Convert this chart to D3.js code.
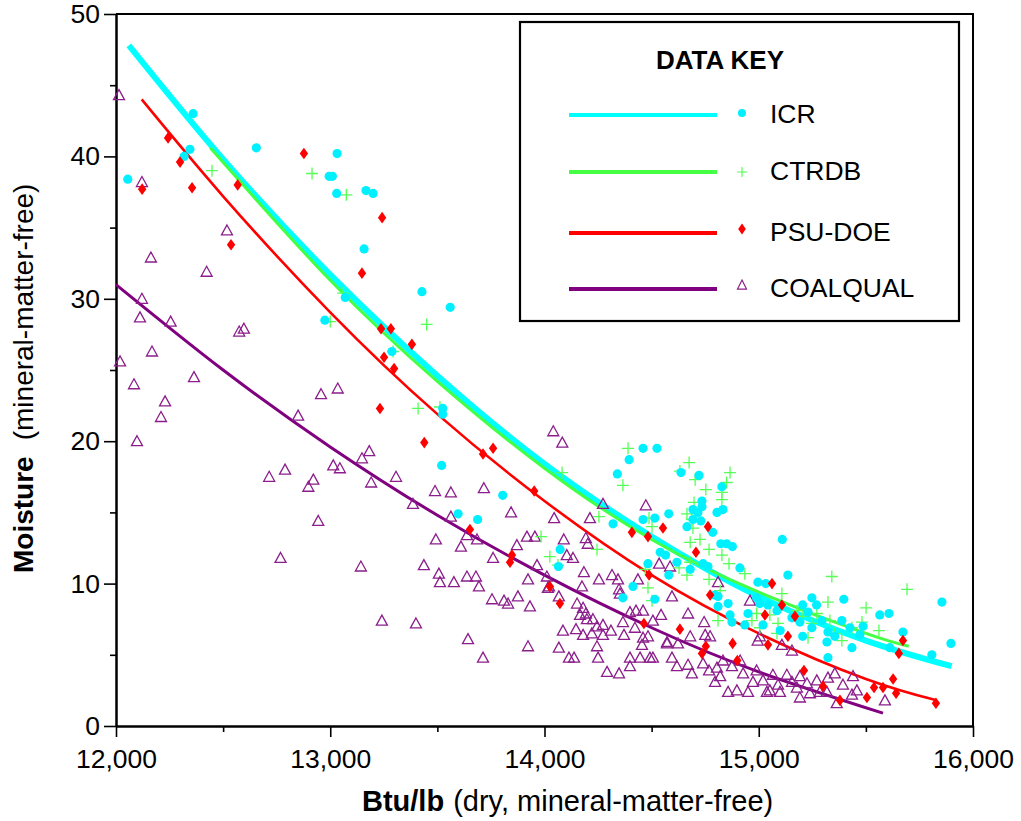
<!DOCTYPE html>
<html>
<head>
<meta charset="utf-8">
<script src="https://cdn.jsdelivr.net/npm/d3@7/dist/d3.min.js"></script>
<style>
  html, body { margin: 0; padding: 0; background: #fff; }
  svg { display: block; font-family: Arial, "Liberation Sans", Helvetica, sans-serif; }
</style>
</head>
<body>
<svg id="chart" width="1021" height="821"></svg>
<script>
// ---- data: [Btu/lb, moisture %] ----
const xTicks = [12000, 13000, 14000, 15000, 16000];
const xMinorTicks = [12500, 13500, 14500, 15500];
const yTicks = [0, 10, 20, 30, 40, 50];
const yMinorTicks = [5, 15, 25, 35, 45];

const seriesNames = ["ICR", "CTRDB", "PSU-DOE", "COALQUAL"];

const icrPoints = [
  [12055,38.4],[12360,43.0],[12345,40.5],[12318,40.0],[12655,40.6],[13032,40.2],[12995,38.6],[13010,38.6],
  [13030,37.4],[13167,37.6],[13200,37.4],[13158,33.5],[13428,30.5],[13070,30.1],[13560,29.4],[12975,28.5],
  [13288,26.3],[13525,22.3],[13525,21.9],[13520,18.3],[13805,16.2],[13597,14.9],[13688,14.5],[14460,19.5],
  [14525,19.5],[14395,18.7],[14340,17.7],[14320,14.2],[14460,14.5],[14515,14.6],[14580,14.9],[14073,12.4],
  [14065,11.2],[14540,12.2],[14565,12.0],[14483,11.4],[14413,9.8],[14366,9.0],[14515,8.9],[14580,10.6],
  [14637,17.8],[14721,17.6],[14828,16.8],[14735,15.8],[14735,15.4],[14693,15.2],[14716,15.0],[14805,15.0],
  [14833,15.2],[14730,14.4],[14665,14.0],[14693,14.5],[14785,13.6],[15110,13.1],[14823,12.8],[14850,12.8],
  [14877,12.6],[14618,11.5],[14680,11.0],[14740,11.4],[14763,11.2],[14912,11.1],[15136,10.6],[14996,10.1],
  [15033,10.0],[14795,9.2],[14810,9.1],[15248,9.0],[15397,8.9],[15855,8.7],[14990,9.0],[14810,8.4],
  [14857,8.6],[14866,7.8],[14875,7.3],[14935,7.1],[14950,7.9],[15005,8.6],[15043,8.5],[15085,8.1],
  [15020,7.1],[15100,6.7],[15155,7.6],[15205,8.5],[15270,8.5],[15230,8.0],[15192,7.3],[15205,6.3],
  [15248,6.9],[15295,7.4],[15323,6.6],[15318,5.9],[15323,4.8],[15355,6.3],[15388,7.4],[15426,6.9],
  [15435,5.5],[15472,6.4],[15487,7.0],[15565,7.8],[15608,7.9],[15612,5.5],[15673,6.6],[15808,5.0],
  [15897,5.8]
];

const ctrdbPoints = [
  [12448,39.0],[12915,38.8],[13075,37.3],[13060,30.4],[13000,28.4],[13450,28.2],[13293,26.3],[13410,22.3],
  [13512,22.4],[14390,19.5],[14366,16.9],[14082,17.8],[14254,14.7],[14488,14.6],[14502,14.0],[13984,13.3],
  [14245,12.4],[14025,11.9],[14063,11.3],[14470,11.0],[14483,9.7],[14502,8.8],[14675,18.5],[14632,17.9],
  [14703,17.3],[14866,17.8],[14850,17.1],[14753,16.6],[14828,16.4],[14828,15.9],[14698,15.7],[14665,14.9],
  [14688,14.5],[14693,13.9],[14680,12.9],[14726,13.1],[14768,12.4],[14828,12.0],[14861,11.4],[14680,11.5],
  [14665,10.6],[14628,11.1],[14768,10.3],[14935,10.7],[15341,10.5],[15692,9.6],[15108,9.3],[14820,9.5],
  [14810,7.4],[14968,7.4],[14990,7.9],[15052,7.8],[15090,7.2],[15178,8.1],[15206,7.7],[15248,7.2],
  [15271,7.9],[15323,8.7],[15332,7.4],[15355,6.5],[15388,6.0],[15435,6.9],[15482,7.3],[15501,8.3],
  [15561,6.7],[15230,6.2],[15085,6.5],[15005,6.9]
];

const psuPoints = [
  [12122,37.7],[12243,41.3],[12299,39.6],[12355,37.8],[12568,38.0],[12877,40.2],[12537,33.8],[13242,35.7],
  [13148,31.8],[13237,27.9],[13283,27.9],[13381,26.8],[13251,25.9],[13298,25.1],[13232,22.3],[13439,19.9],
  [13713,19.1],[13760,19.5],[13952,16.5],[14408,13.6],[14483,13.3],[14553,13.9],[13652,13.8],[13848,12.0],
  [13839,11.5],[14488,10.6],[14025,9.8],[14072,8.6],[14464,7.2],[14763,14.0],[14707,12.2],[15062,10.0],
  [14773,9.2],[15108,8.5],[15029,7.8],[15169,7.7],[15136,6.3],[15043,5.7],[14632,6.8],[14753,5.6],
  [14735,5.1],[14878,5.8],[14900,4.6],[15211,3.9],[15300,2.8],[15379,1.8],[15505,2.0],[15538,2.7],
  [15580,2.7],[15627,3.3],[15641,2.3],[15654,5.1],[15673,6.0],[15827,1.6]
];

const coalPoints = [
  [12014,44.3],[12121,38.2],[12518,34.8],[12163,32.9],[12423,31.9],[12121,30.0],[12112,28.7],[12255,28.4],
  [12575,27.7],[12597,27.9],[12168,26.3],[12019,25.6],[12084,24.0],[12364,24.5],[12229,22.8],[12210,21.7],
  [12098,20.0],[12850,21.8],[12957,23.3],[13035,23.7],[12715,17.5],[12789,18.0],[12921,17.3],[12898,16.8],
  [13014,18.3],[13045,18.1],[12944,14.4],[12768,11.8],[13182,19.3],[13148,18.8],[13191,17.1],[13307,17.5],
  [13489,16.5],[13563,16.4],[13717,16.7],[13386,15.6],[14041,20.7],[14083,19.9],[13844,15.0],[13563,14.7],
  [13493,13.1],[13610,12.6],[13685,13.1],[13638,13.4],[13760,11.8],[13871,12.7],[13918,13.3],[13955,13.3],
  [14045,14.6],[14090,13.1],[14212,14.6],[14193,13.2],[14202,12.8],[14104,12.0],[14133,11.8],[13965,11.3],
  [14273,15.6],[14473,15.5],[14535,11.4],[13143,11.2],[13437,11.3],[13507,10.7],[13512,10.1],[13577,10.1],
  [13638,10.5],[13680,10.5],[13694,9.8],[13923,10.3],[14011,10.5],[14184,10.8],[14254,10.3],[14315,10.6],
  [14343,10.3],[14436,10.3],[14348,9.6],[14175,9.8],[14021,9.8],[13241,7.4],[13400,7.2],[13643,6.1],
  [13713,4.8],[13755,8.9],[13811,8.8],[13830,8.6],[13876,9.1],[13932,8.4],[13923,5.6],[14067,5.5],
  [14114,4.8],[14138,4.8],[14016,9.7],[14067,9.1],[14152,8.6],[14180,8.3],[14193,7.9],[14166,7.8],
  [14198,7.5],[14226,7.5],[14147,6.8],[14221,6.5],[14245,7.0],[14273,7.1],[14310,6.7],[14273,6.4],
  [14245,5.6],[14250,4.8],[14292,3.8],[14348,3.7],[14371,6.4],[14366,7.3],[14399,8.0],[14427,8.1],
  [14460,8.1],[14422,6.9],[14460,6.2],[14483,6.3],[14455,5.7],[14506,7.4],[14544,7.8],[14572,5.9],
  [14399,4.8],[14446,4.8],[14492,4.8],[14506,4.8],[14399,4.2],[14086,6.7],[14180,6.4],[14352,9.3],
  [14586,11.2],[14595,9.1],[14670,7.9],[14572,5.8],[14623,5.8],[14680,6.3],[14773,6.3],[14745,7.3],
  [14810,10.1],[14595,4.8],[14618,4.2],[14670,4.3],[14688,3.7],[14740,4.4],[14768,3.9],[14796,3.1],
  [14820,3.5],[14857,2.4],[14875,4.2],[14913,4.6],[14927,3.7],[14950,2.4],[14959,8.8],[15005,6.3],
  [14990,3.9],[15020,3.2],[15038,2.4],[15066,3.6],[15090,2.9],[15131,3.6],[15155,3.1],[15178,2.7],
  [15192,2.0],[15225,3.0],[15239,2.3],[15271,3.2],[15285,2.4],[15355,3.7],[15364,1.6],[15393,2.9],
  [15440,3.5],[15435,2.2],[15589,1.8],[15155,5.3],[15108,5.7],[14995,6.0],[14750,6.4],[14805,4.1],
  [14833,4.6],[14898,2.5],[14973,3.1],[15052,2.5],[15099,2.4],[15192,3.5],[15318,2.4],[15323,3.4],
  [15458,2.5]
];

// fitted trend curves, sampled along each line
const icrFit   = [[12060,47.8],[12500,39.8],[13000,31.7],[13500,24.6],[14000,18.4],[14500,13.3],[15000,9.1],[15500,6.0],[15900,4.2]];
const ctrdbFit = [[12440,40.6],[13000,31.3],[13500,24.2],[14000,18.1],[14500,13.1],[15000,9.4],[15500,6.5],[15700,5.6]];
const psuFit   = [[12120,44.0],[12500,37.2],[13000,29.05],[13500,21.9],[14000,15.8],[14500,10.6],[15000,6.5],[15500,3.3],[15830,1.8]];
const coalFit  = [[12000,31.0],[12500,25.0],[13000,19.6],[13500,14.8],[14000,10.6],[14500,6.9],[15000,3.8],[15580,0.9]];

// ---- layout ----
const svg = d3.select("#chart");
const plotL = 116, plotR = 973, plotT = 14, plotB = 726;
const x = d3.scaleLinear().domain([12000, 16000]).range([plotL, plotR]);
const y = d3.scaleLinear().domain([0, 50]).range([plotB, plotT]);

const colors = { icr: "#00f0ff", ctrdb: "#44ff44", psu: "#ff0000", coal: "#800080", coalMark: "#8b1e8b" };

// frame (top and right)
svg.append("path")
  .attr("d", `M${plotL},${plotT}H${plotR}V${plotB}`)
  .attr("fill", "none").attr("stroke", "#000").attr("stroke-width", 2);

// axes
const tickFont = 26.5;
const xAxis = svg.append("g").attr("transform", `translate(0,${plotB})`)
  .call(d3.axisBottom(x).tickValues(xTicks).tickSize(11).tickSizeOuter(0).tickPadding(12).tickFormat(d3.format(",")));
const xMinor = svg.append("g").attr("transform", `translate(0,${plotB})`)
  .call(d3.axisBottom(x).tickValues(xMinorTicks).tickSize(6).tickSizeOuter(0).tickFormat(""));
const yAxis = svg.append("g").attr("transform", `translate(${plotL},0)`)
  .call(d3.axisLeft(y).tickValues(yTicks).tickSize(12).tickSizeOuter(0).tickPadding(4));
const yMinor = svg.append("g").attr("transform", `translate(${plotL},0)`)
  .call(d3.axisLeft(y).tickValues(yMinorTicks).tickSize(6).tickSizeOuter(0).tickFormat(""));

[xAxis, xMinor, yAxis, yMinor].forEach(g => {
  g.select(".domain").attr("stroke", "#000").attr("stroke-width", 2);
  g.selectAll(".tick line").attr("stroke", "#000").attr("stroke-width", 1.6);
  g.selectAll(".tick text").attr("fill", "#000").style("font-size", tickFont + "px")
    .style("font-family", "Arial, 'Liberation Sans', sans-serif");
});

// axis titles
const xt = svg.append("text").attr("x", 362).attr("y", 811).attr("fill", "#000").style("font-size", "29px");
xt.append("tspan").attr("font-weight", "bold").text("Btu/lb");
xt.append("tspan").attr("dx", 9).text("(dry, mineral-matter-free)");

const yt = svg.append("text").attr("transform", "translate(33,573) rotate(-90)")
  .attr("fill", "#000").style("font-size", "28px");
yt.append("tspan").attr("font-weight", "bold").text("Moisture");
yt.append("tspan").attr("dx", 16).text("(mineral-matter-free)");

// trend curves
const line = d3.line().x(d => x(d[0])).y(d => y(d[1])).curve(d3.curveNatural);
const plot = svg.append("g");
plot.append("path").datum(coalFit).attr("d", line).attr("fill", "none").attr("stroke", colors.coal).attr("stroke-width", 3);
plot.append("path").datum(psuFit).attr("d", line).attr("fill", "none").attr("stroke", colors.psu).attr("stroke-width", 2.6);
plot.append("path").datum(icrFit).attr("d", line).attr("fill", "none").attr("stroke", "#00ffff").attr("stroke-width", 6);
plot.append("path").datum(ctrdbFit).attr("d", line).attr("fill", "none").attr("stroke", colors.ctrdb).attr("stroke-width", 3);

// marker shapes
const plusPath = s => `M${-s},0H${s}M0,${-s}V${s}`;
const diamondPath = (w, h) => `M0,${-h}L${w},0L0,${h}L${-w},0Z`;
const triPath = (w, h) => `M0,${-h * 0.55}L${w},${h * 0.45}L${-w},${h * 0.45}Z`;

plot.append("g").selectAll("path").data(coalPoints).join("path")
  .attr("transform", d => `translate(${x(d[0])},${y(d[1])})`)
  .attr("d", triPath(5.5, 10)).attr("fill", "none").attr("stroke", colors.coalMark).attr("stroke-width", 1.3);

plot.append("g").selectAll("path").data(ctrdbPoints).join("path")
  .attr("transform", d => `translate(${x(d[0])},${y(d[1])})`)
  .attr("d", plusPath(6)).attr("fill", "none").attr("stroke", "#55ff55").attr("stroke-width", 1.3);

plot.append("g").selectAll("circle").data(icrPoints).join("circle")
  .attr("cx", d => x(d[0])).attr("cy", d => y(d[1])).attr("r", 4.6).attr("fill", colors.icr);

plot.append("g").selectAll("path").data(psuPoints).join("path")
  .attr("transform", d => `translate(${x(d[0])},${y(d[1])})`)
  .attr("d", diamondPath(4.2, 5.8)).attr("fill", colors.psu);

// legend
const lg = svg.append("g");
lg.append("rect").attr("x", 520).attr("y", 22).attr("width", 439).attr("height", 299)
  .attr("fill", "#fff").attr("stroke", "#000").attr("stroke-width", 2.2);
lg.append("text").attr("x", 720).attr("y", 69).attr("text-anchor", "middle")
  .attr("font-weight", "bold").style("font-size", "26px").attr("fill", "#000").text("DATA KEY");

const legendRows = [
  { name: seriesNames[0], ly: 115, color: "#00ffff", mark: "circle" },
  { name: seriesNames[1], ly: 172, color: colors.ctrdb, mark: "plus" },
  { name: seriesNames[2], ly: 233, color: colors.psu, mark: "diamond" },
  { name: seriesNames[3], ly: 289, color: colors.coal, mark: "tri" }
];
legendRows.forEach(r => {
  lg.append("line").attr("x1", 569).attr("x2", 717).attr("y1", r.ly).attr("y2", r.ly)
    .attr("stroke", r.color).attr("stroke-width", 4);
  const mx = 742;
  if (r.mark === "circle") {
    lg.append("circle").attr("cx", mx).attr("cy", r.ly - 2).attr("r", 4).attr("fill", colors.icr);
  } else if (r.mark === "plus") {
    lg.append("path").attr("transform", `translate(${mx},${r.ly})`).attr("d", plusPath(5))
      .attr("fill", "none").attr("stroke", "#55ff55").attr("stroke-width", 1.2);
  } else if (r.mark === "diamond") {
    lg.append("path").attr("transform", `translate(${mx},${r.ly - 4})`).attr("d", diamondPath(3.8, 5.5))
      .attr("fill", colors.psu);
  } else {
    lg.append("path").attr("transform", `translate(${mx},${r.ly - 4})`).attr("d", triPath(4.5, 9))
      .attr("fill", "none").attr("stroke", colors.coalMark).attr("stroke-width", 1.2);
  }
  lg.append("text").attr("x", 770).attr("y", r.ly + 8).style("font-size", "26.5px")
    .attr("fill", "#000").text(r.name);
});
</script>
</body>
</html>
